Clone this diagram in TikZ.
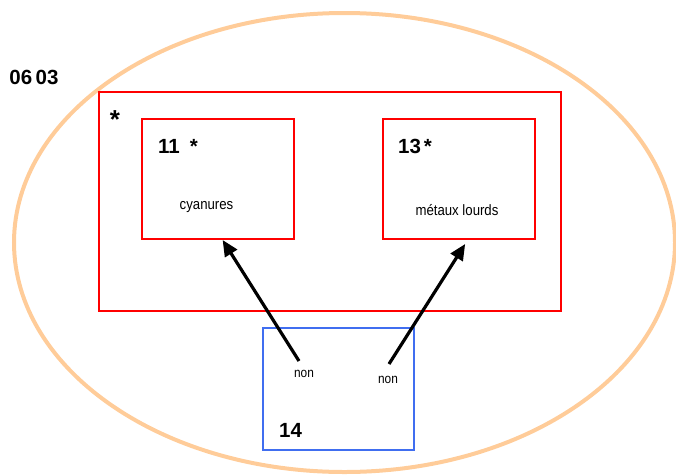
\documentclass[tikz,border=0pt]{standalone}
\usepackage{fontspec}
\setmainfont{Liberation Sans}
\newfontfamily\condfont[FakeStretch=0.88]{Liberation Sans}
\usetikzlibrary{arrows.meta,calc,shapes.geometric}
\definecolor{peach}{RGB}{255,204,153}
\definecolor{boxred}{RGB}{255,0,0}
\definecolor{boxblue}{RGB}{64,110,240}
\tikzset{
  zonestyle/.style={draw=peach, line width=4pt, ellipse, inner sep=0, outer sep=0},
  redbox/.style={draw=boxred, line width=2pt, rectangle, inner sep=0},
  bluebox/.style={draw=boxblue, line width=2pt, rectangle, inner sep=0},
  biglbl/.style={font=\fontsize{20.5}{24}\selectfont\bfseries, inner sep=0},
  smalllbl/.style={font=\condfont\fontsize{15}{18}\selectfont, inner sep=0},
  nonlbl/.style={font=\condfont\fontsize{13.5}{16}\selectfont, inner sep=0},
  arr/.style={line width=3.2pt, -{Triangle[length=16pt,width=14pt]}}
}
\begin{document}
\begin{tikzpicture}[x=1pt,y=-1pt]
\useasboundingbox (0,0) rectangle (676,474);
\node[zonestyle, minimum width=661, minimum height=459] (zone) at (344.5,242.5) {};
\node[redbox, minimum width=462, minimum height=219] (outer) at (330,201.5) {};
\node[redbox, minimum width=152, minimum height=120] (b11) at (218,179) {};
\node[redbox, minimum width=152, minimum height=120] (b13) at (459,179) {};
\node[bluebox, minimum width=151, minimum height=122] (b14) at (338.5,389) {};
% labels
\node[biglbl, anchor=base] (code) at (34,84) {06\,03};
\node[font=\fontsize{26}{30}\selectfont\bfseries, inner sep=0, anchor=base] (star) at (115,128) {*};
\node[biglbl, anchor=base west] (t11) at (158,153) {11\hspace{10pt}*};
\node[biglbl, anchor=base west] (t13) at (398,153) {13\hspace{3pt}*};
\node[smalllbl, anchor=base] (cy) at (206.5,209) {cyanures};
\node[smalllbl, anchor=base] (ml) at (457,215) {métaux lourds};
\node[nonlbl, anchor=base] (non1) at (304,377) {non};
\node[nonlbl, anchor=base] (non2) at (388,383) {non};
\node[biglbl, anchor=base] (t14) at (290.5,437) {14};
% arrows
\coordinate (s1) at (299,361);
\coordinate (s2) at (389,364);
\draw[arr] (s1) -- ($(b11.south west)!0.53!(b11.south east)$);
\draw[arr] (s2) -- ($(b13.south west)!0.54!(b13.south east)+(0,4)$);
\end{tikzpicture}
\end{document}
